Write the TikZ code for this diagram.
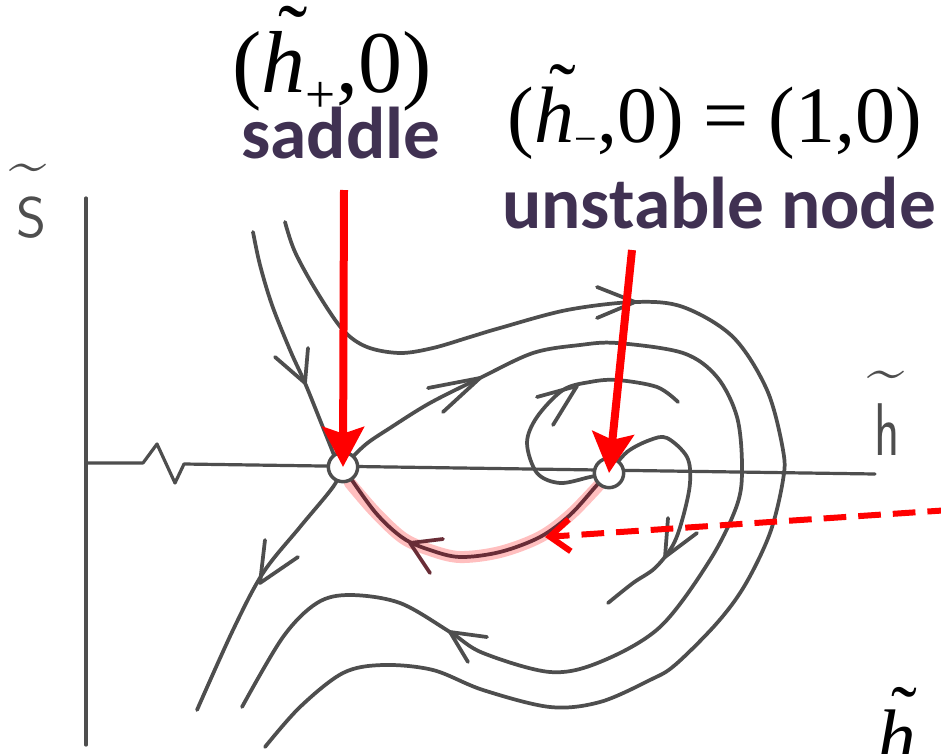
\documentclass[tikz,border=0pt]{standalone}
\usepackage{fontspec}
\setmainfont{Liberation Serif}
\newfontfamily\calib{Carlito}
\usetikzlibrary{arrows.meta}
\definecolor{pencil}{RGB}{78,78,78}
\definecolor{labpurple}{RGB}{64,49,82}
\definecolor{arrred}{RGB}{255,0,0}
\definecolor{hetero}{RGB}{105,45,55}
\newcommand\htil{\ooalign{\textit{h}\cr\hidewidth\kern0.2em\raisebox{0.3em}{\char"02DC}\hidewidth\cr}}
\newcommand\subplus{\raisebox{-15pt}{\fontsize{40}{40}\selectfont +}}
\newcommand\subminus{\raisebox{-8pt}{\fontsize{30}{30}\selectfont \char"2212}}
\tikzset{
  pen/.style={draw=pencil, line width=2.8pt, line cap=round, line join=round},
  fp/.style={circle, draw=pencil, fill=white, line width=2.6pt, minimum size=22pt, inner sep=0pt},
  redarrow/.style={draw=arrred, line width=6pt, -{Stealth[length=30pt,width=31pt,inset=5pt]}},
  reddash/.style={draw=arrred, line width=4.5pt, dash pattern=on 17pt off 9pt, -{Straight Barb[length=15pt,width=24pt]}},
  formula/.style={anchor=base, font=\fontsize{60}{64}\selectfont},
  lab/.style={anchor=base, text=labpurple, font=\calib\bfseries\fontsize{55}{60}\selectfont},
  hand/.style={text=pencil, font=\sffamily\fontsize{43}{43}\selectfont}
}
\begin{document}
\begin{tikzpicture}[x=0.75pt,y=-0.75pt]
\useasboundingbox (0,0) rectangle (941,753);
\clip (0,0) rectangle (941,753);
\fill[white] (0,0) rectangle (941,753);
% axes
\draw[pen, line width=2.4pt] (86,198) -- (86,745);
\draw[pen, line width=2.4pt] (86,463) -- (143,463) -- (157,444) -- (175,483) -- (184,464) -- (875,474);
% axis labels
\node[hand, anchor=base] (slab) at (31,237) {S};
\node[hand, font=\sffamily\fontsize{50}{50}\selectfont] (stil) at (28,174) {\textasciitilde};
\node[hand, anchor=base, font=\sffamily\fontsize{56}{56}\selectfont] (hlab) at (887,455) {\scalebox{0.7}[1]{h}};
\node[hand, font=\sffamily\fontsize{50}{50}\selectfont] (htl) at (886,381) {\textasciitilde};
% trajectories
\draw[pen] plot[smooth, tension=0.55] coordinates {(253,232) (260,265) (272,305) (290,350) (305,383) (320,420) (336,460)};
\draw[pen] plot[smooth, tension=0.55] coordinates {(285,222) (295,252) (317,292) (343,330) (367,347) (400,353) (433,348) (470,337) (500,328) (567,310) (635,302) (683,307) (733,337) (767,390) (783,450) (783,480) (770,533) (745,585) (717,623) (675,665) (650,680) (600,702) (550,707) (483,690) (433,670) (383,665) (343,673) (300,707) (265,747)};
\draw[pen] plot[smooth, tension=0.55] coordinates {(343,467) (365,445) (390,428) (430,403) (480,378) (533,353) (580,345) (617,343) (683,353) (717,377) (737,417) (742,467) (737,505) (710,560) (660,627) (600,662) (550,672) (483,653) (450,632) (400,603) (350,595) (317,603) (283,637) (242,707)};
\draw[pen] plot[smooth, tension=0.55] coordinates {(609,473) (590,477) (560,483) (537,473) (527,443) (537,417) (563,390) (590,382) (617,380) (657,387) (678,402)};
\draw[pen] plot[smooth, tension=0.55] coordinates {(609,473) (627,452) (650,440) (667,438) (687,457) (690,483) (683,517) (673,545) (655,568) (633,583) (608,603)};
\draw[pen] plot[smooth, tension=0.55] coordinates {(343,467) (333,487) (300,527) (263,573) (233,630) (197,710)};
% heteroclinic with red glow
\draw[draw=red, opacity=0.25, line width=9pt, line cap=round] plot[smooth, tension=0.55] coordinates {(600,484) (570,515) (540,537) (500,552) (460,557) (430,550) (403,538) (375,512) (350,483)};
\draw[pen, draw=hetero] plot[smooth, tension=0.55] coordinates {(609,473) (597,485) (570,515) (540,537) (500,552) (460,557) (430,550) (403,538) (375,512) (343,467)};
% chevrons
\draw[pen] (275,357) -- (305,383) -- (308,348);
\draw[pen] (597,287) -- (635,302) -- (597,318);
\draw[pen] (428,388) -- (480,378) -- (443,412);
\draw[pen] (537,397) -- (577,386) -- (553,425);
\draw[pen] (668,518) -- (665,557) -- (697,533);
\draw[pen, draw=hetero] (443,539) -- (410,543) -- (430,573);
\draw[pen] (265,540) -- (260,583) -- (298,557);
\draw[pen] (487,637) -- (450,632) -- (468,662);
% fixed points
\node[fp] (saddle) at (343,467) {};
\node[fp] (unode) at (609,473) {};
% labels
\node[formula, font=\fontsize{66}{70}\selectfont] (lab1) at (332,92) {(\htil\subplus,0)};
\node[lab] (saddlelab) at (341,158) {saddle};
\node[formula] (lab2) at (715,142) {(\htil\subminus,0)\hspace{0.25em}=\hspace{0.25em}(1,0)};
\node[lab] (nodelab) at (719,228) {unstable node};
\node[formula, font=\fontsize{58}{62}\selectfont, anchor=base west] (hbr) at (873,763) {\htil};
% red arrows
\coordinate (sTop) at (344,190);
\coordinate (nTop) at (632,250);
\draw[redarrow] (sTop) -- (saddle.center);
\draw[redarrow] (nTop) -- (unode.center);
\coordinate (dStart) at (950,510);
\coordinate (dTip) at (545,537);
\draw[reddash] (dStart) -- (dTip);
\end{tikzpicture}
\end{document}
